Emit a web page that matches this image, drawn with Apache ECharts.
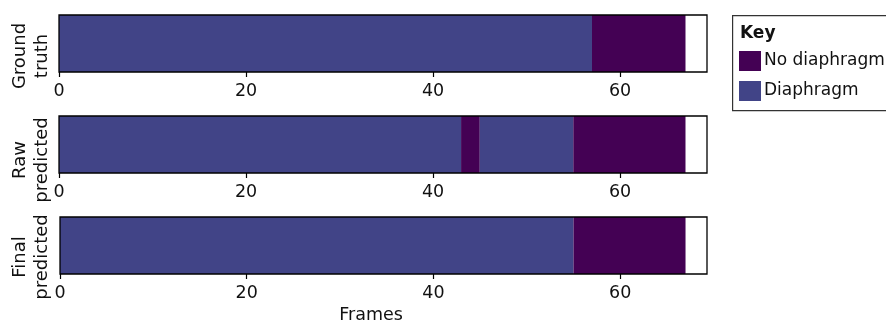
<!DOCTYPE html>
<html>
<head>
<meta charset="utf-8">
<script src="https://cdn.jsdelivr.net/npm/echarts@6/dist/echarts.min.js"></script>
<style>
  html, body { margin: 0; padding: 0; background: #fff; }
  #chart { width: 886px; height: 322px; }
</style>
</head>
<body>
<div id="chart"></div>
<script>
// rows, top to bottom
const rowLabels = ['Ground\ntruth', 'Raw\npredicted', 'Final\npredicted']

// run lengths (frames) and class of each run, left to right
const gtRuns = [57, 10]
const gtClasses = ['Diaphragm', 'No diaphragm']
const rawRuns = [43, 2, 10, 12]
const rawClasses = ['Diaphragm', 'No diaphragm', 'Diaphragm', 'No diaphragm']
const finalRuns = [55, 12]
const finalClasses = ['Diaphragm', 'No diaphragm']

const xTicks = [0, 20, 40, 60]
const xMax = 69.3
const keyNames = ['No diaphragm', 'Diaphragm']

const colors = { 'No diaphragm': '#440154', 'Diaphragm': '#414487' }
const font = 'DejaVu Sans'

const rows = [
    { runs: gtRuns, classes: gtClasses },
    { runs: rawRuns, classes: rawClasses },
    { runs: finalRuns, classes: finalClasses }
]

const grids = [
    { left: 59, right: 179, top: 15, height: 57 },
    { left: 59, right: 179, top: 116, height: 57 },
    { left: 60, right: 179, top: 217, height: 57 }
]
const labelPos = [[31, 56], [31, 160], [31, 257]]

let grid = [], xAxis = [], yAxis = [], series = []

rows.forEach((row, r) => {
    grid.push(Object.assign({
        show: true,
        backgroundColor: 'transparent',
        borderColor: '#000',
        borderWidth: 1.3,
        z: 10
    }, grids[r]))
    xAxis.push({
        type: 'value',
        gridIndex: r,
        min: 0,
        max: xMax,
        axisLine: { show: false },
        splitLine: { show: false },
        axisTick: { show: true, length: 5, customValues: xTicks, lineStyle: { color: '#000', width: 1.2 } },
        axisLabel: { customValues: xTicks, margin: 10, color: '#111', fontFamily: font, fontSize: 17.5 }
    })
    yAxis.push({
        type: 'category',
        gridIndex: r,
        data: ['row'],
        axisLine: { show: false },
        axisTick: { show: false },
        axisLabel: { show: false }
    })
    row.runs.forEach((len, i) => {
        series.push({
            type: 'bar',
            name: row.classes[i],
            stack: 'row' + r,
            xAxisIndex: r,
            yAxisIndex: r,
            barWidth: '100%',
            silent: true,
            itemStyle: { color: colors[row.classes[i]] },
            data: [len]
        })
    })
})

let graphic = [
    {
        type: 'rect',
        left: 732, top: 15,
        shape: { width: 200, height: 95 },
        style: { fill: '#fff', stroke: '#333', lineWidth: 1.2 }
    },
    {
        type: 'text',
        left: 740, top: 25,
        style: { text: 'Key', fontFamily: font, fontWeight: 'bold', fontSize: 17, fill: '#111' }
    },
    {
        type: 'text',
        x: 371, y: 315,
        style: { text: 'Frames', fontFamily: font, fontSize: 17.5, fill: '#111', align: 'center', verticalAlign: 'middle' }
    }
]

rowLabels.forEach((t, r) => {
    graphic.push({
        type: 'text',
        x: labelPos[r][0],
        y: labelPos[r][1],
        rotation: Math.PI / 2,
        style: {
            text: t, fontFamily: font, fontSize: 18, lineHeight: 22, fill: '#111',
            align: 'center', verticalAlign: 'middle'
        }
    })
})

const chart = echarts.init(document.getElementById('chart'), null, { renderer: 'canvas' })

chart.setOption({
    animation: false,
    backgroundColor: '#fff',
    grid: grid,
    xAxis: xAxis,
    yAxis: yAxis,
    legend: {
        data: keyNames,
        orient: 'vertical',
        left: 739,
        top: 51,
        padding: 0,
        icon: 'rect',
        itemWidth: 22,
        itemHeight: 20,
        itemGap: 10,
        selectedMode: false,
        z: 20,
        textStyle: { fontFamily: font, fontSize: 17, color: '#111', padding: [0, 0, 0, -2] }
    },
    graphic: graphic,
    series: series
})
</script>
</body>
</html>
